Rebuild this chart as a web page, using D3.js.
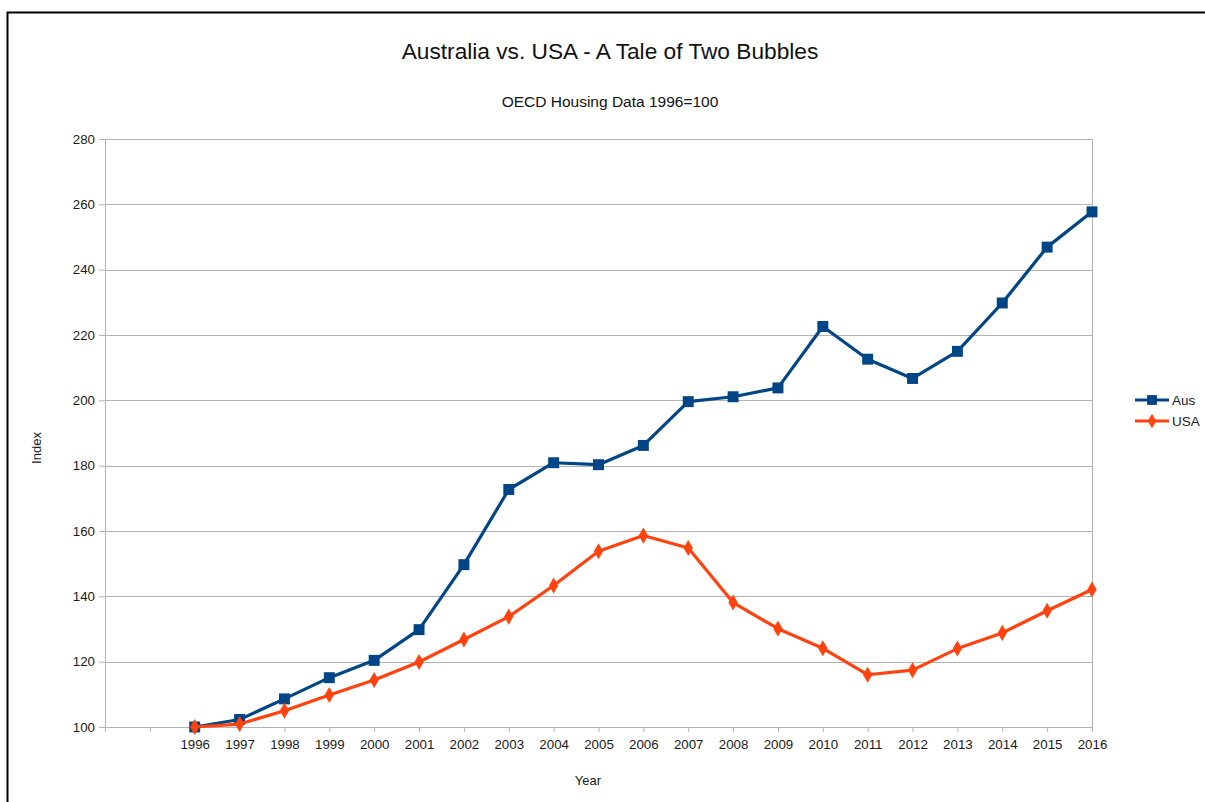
<!DOCTYPE html>
<html lang="en">
<head>
<meta charset="UTF-8">
<title>Australia vs. USA</title>
<script src="https://d3js.org/d3.v7.min.js"></script>
<style>
  body { margin: 0; background: #fff; }
  text { font-family: "Liberation Sans", Arial, sans-serif; }
</style>
</head>
<body>
<div id="chart"></div>
<script>
// data (index, 1996 = 100)
var years = [1996, 1997, 1998, 1999, 2000, 2001, 2002, 2003, 2004, 2005, 2006,
             2007, 2008, 2009, 2010, 2011, 2012, 2013, 2014, 2015, 2016];
var aus = [100, 102.3, 108.6, 115.1, 120.4, 129.8, 149.7, 172.7, 180.9, 180.3, 186.2,
           199.6, 201.1, 203.8, 222.6, 212.6, 206.7, 215.0, 229.8, 246.9, 257.7];
var usa = [100, 100.9, 105.0, 109.8, 114.4, 119.9, 126.8, 133.8, 143.3, 153.8, 158.6,
           154.8, 138.1, 130.1, 124.1, 116.0, 117.4, 124.0, 128.8, 135.6, 142.1];
var yTicks = [100, 120, 140, 160, 180, 200, 220, 240, 260, 280];

var W = 1205, H = 802;
var margin = {top: 139, right: 113, bottom: 75, left: 105};
var width = W - margin.left - margin.right,
    height = H - margin.top - margin.bottom;

var svg = d3.select("#chart").append("svg")
    .attr("width", W).attr("height", H);

// outer frame (left + top only visible)
svg.append("path")
    .attr("d", "M7.5," + H + "V12.5H" + W)
    .attr("fill", "none").attr("stroke", "#000").attr("stroke-width", 2);

svg.append("text").attr("x", 610).attr("y", 59)
    .attr("text-anchor", "middle").attr("font-size", 22.7).attr("fill", "#111")
    .text("Australia vs. USA - A Tale of Two Bubbles");
svg.append("text").attr("x", 610).attr("y", 107)
    .attr("text-anchor", "middle").attr("font-size", 15.5).attr("fill", "#111")
    .text("OECD Housing Data 1996=100");

var g = svg.append("g")
    .attr("transform", "translate(" + margin.left + "," + margin.top + ")");

// two empty category slots precede 1996
var x = d3.scaleLinear().domain([1994, 2016]).range([0, width]);
var y = d3.scaleLinear().domain([100, 280]).range([height, 0]);

// grid
g.append("g").selectAll("line").data(yTicks).enter().append("line")
    .attr("x1", 0).attr("x2", width)
    .attr("y1", function(d) { return Math.round(y(d)) + 0.5; })
    .attr("y2", function(d) { return Math.round(y(d)) + 0.5; })
    .attr("stroke", "#b3b3b3");
g.append("line").attr("x1", width + 0.5).attr("x2", width + 0.5)
    .attr("y1", 0).attr("y2", height).attr("stroke", "#b3b3b3");

var yAxis = g.append("g")
    .call(d3.axisLeft(y).tickValues(yTicks).tickSize(6).tickPadding(4));
var xAxis = g.append("g").attr("transform", "translate(0," + height + ")")
    .call(d3.axisBottom(x).tickValues(d3.range(1994, 2017)).tickSize(5).tickPadding(8)
      .tickFormat(function(d) { return d < 1996 ? "" : d; }));
[xAxis, yAxis].forEach(function(a) {
  a.selectAll("path, line").attr("stroke", "#b3b3b3");
  a.selectAll("text").attr("font-size", 13.3).attr("fill", "#1a1a1a")
    .attr("font-family", "Liberation Sans, Arial, sans-serif");
});

svg.append("text").attr("x", 588).attr("y", 785)
    .attr("text-anchor", "middle").attr("font-size", 13).attr("fill", "#1a1a1a").text("Year");
svg.append("text").attr("transform", "translate(41,448) rotate(-90)")
    .attr("text-anchor", "middle").attr("font-size", 13).attr("fill", "#1a1a1a").text("Index");

var series = [
  {name: "Aus", values: aus, color: "#004586", shape: d3.symbolSquare, size: 120},
  {name: "USA", values: usa, color: "#ff420e", shape: d3.symbolDiamond, size: 75}
];

var line = d3.line()
    .x(function(d, i) { return x(years[i]); })
    .y(function(d) { return y(d); });

series.forEach(function(s) {
  g.append("path").datum(s.values)
    .attr("d", line).attr("fill", "none")
    .attr("stroke", s.color).attr("stroke-width", 3.2)
    .attr("stroke-linejoin", "round");
  g.selectAll(null).data(s.values).enter().append("path")
    .attr("d", d3.symbol().type(s.shape).size(s.size))
    .attr("transform", function(d, i) { return "translate(" + x(years[i]) + "," + y(d) + ")"; })
    .attr("fill", s.color);
});

// legend
var leg = svg.append("g").attr("transform", "translate(1135,400)");
series.forEach(function(s, i) {
  var r = leg.append("g").attr("transform", "translate(0," + (i * 21) + ")");
  r.append("line").attr("x1", 0).attr("x2", 34).attr("stroke", s.color).attr("stroke-width", 3);
  r.append("path").attr("d", d3.symbol().type(s.shape).size(s.size * 0.8))
    .attr("transform", "translate(17,0)").attr("fill", s.color);
  r.append("text").attr("x", 37).attr("y", 5).attr("font-size", 13.5)
    .attr("fill", "#1a1a1a").text(s.name);
});
</script>
</body>
</html>
